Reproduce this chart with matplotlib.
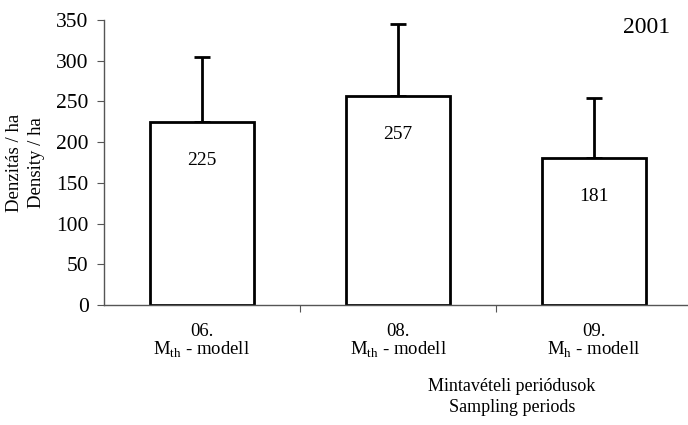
import matplotlib.pyplot as plt

# data
periods = ['06.', '08.', '09.']
models = [r'M$_{\mathregular{th}}$ - modell', r'M$_{\mathregular{th}}$ - modell',
          r'M$_{\mathregular{h}}$ - modell']
density = [225, 257, 181]
sd = [80, 88, 73]
year = '2001'

plt.rcParams['font.family'] = ['Liberation Serif', 'DejaVu Serif']
plt.rcParams['mathtext.fontset'] = 'custom'
plt.rcParams['mathtext.rm'] = 'Liberation Serif'

fig = plt.figure(figsize=(6.88, 4.25), dpi=100)
ax = fig.add_axes([0.151, 0.282, 0.855, 0.671])

x = range(len(density))
ax.bar(x, density, width=0.53, color='white', edgecolor='black', linewidth=2,
       zorder=2)
ax.errorbar(x, density, yerr=[[0] * len(sd), sd], fmt='none', ecolor='black',
            elinewidth=2, capsize=6, capthick=2, zorder=1)

for xi, v in zip(x, density):
    ax.text(xi, v - 48, str(v), ha='center', va='center', fontsize=14)

ax.set_xlim(-0.5, 2.5)
ax.set_ylim(0, 350)
ax.set_yticks(range(0, 351, 50))
ax.set_xticks([0.5, 1.5])
ax.set_xticklabels([])
for xi, p, m in zip(x, periods, models):
    ax.text(xi, -22, p + '\n' + m, ha='center', va='top', fontsize=13.5,
            linespacing=0.95)

ax.text(1.58, -0.255, 'Mintavételi periódusok\nSampling periods',
        ha='center', va='top', fontsize=13, linespacing=1.35,
        transform=ax.get_xaxis_transform())
ax.set_ylabel('Denzitás / ha\nDensity / ha', fontsize=13.5, linespacing=1.35,
              labelpad=8)
ax.text(0.962, 0.937, year, ha='right', va='bottom', fontsize=17,
        transform=ax.transAxes)

for s in ['top', 'right']:
    ax.spines[s].set_visible(False)
for s in ['left', 'bottom']:
    ax.spines[s].set_color('#555555')
    ax.spines[s].set_linewidth(1)
ax.tick_params(axis='y', labelsize=15.5, length=5, color='#555555', pad=6)
ax.tick_params(axis='x', length=5, color='#555555')

fig.savefig('out.png', dpi=100)
